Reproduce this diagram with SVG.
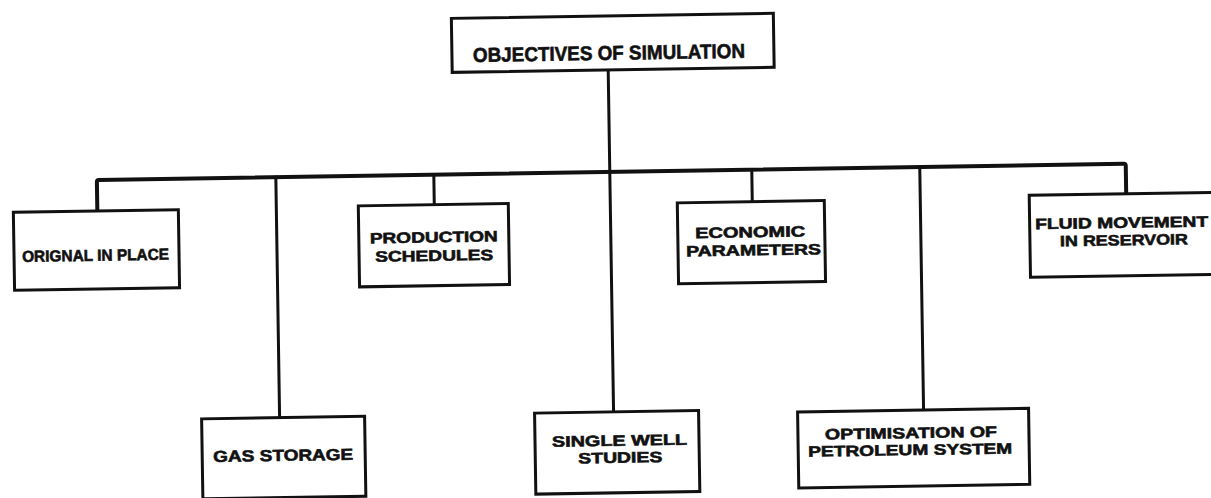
<svg xmlns="http://www.w3.org/2000/svg" width="1211" height="498" viewBox="0 0 1211 498">
<style>
.box{fill:#fff;stroke:#111;stroke-width:3}
.ln{fill:none;stroke:#111;stroke-width:3;stroke-linejoin:round;stroke-linecap:square}
.bus{fill:none;stroke:#111;stroke-width:4;stroke-linejoin:round}
text{font-family:"Liberation Sans",Arial,sans-serif;font-weight:bold;fill:#111;stroke:#111;stroke-width:0.6;text-anchor:middle}
.t{font-size:15px}
.s{font-size:16px}
.tt{font-size:20px}
</style>
<rect width="1211" height="498" fill="#fff"/>
<g transform="rotate(-0.9 605 249)">
<g id="connectors">
<path class="bus" d="M98,203 V174 Q98,172 100,172 H1125 Q1127,172 1127,174 V202"/>
<path class="ln" d="M611,70 V412"/>
<path class="ln" d="M277,172 V412"/>
<path class="ln" d="M435,172 V202"/>
<path class="ln" d="M753,172 V204"/>
<path class="ln" d="M921,172 V415"/>
</g>
<g id="objectives">
<rect class="box" x="455" y="16" width="322" height="54"/>
<text class="tt" x="612" y="60" textLength="272" lengthAdjust="spacingAndGlyphs">OBJECTIVES OF SIMULATION</text>
</g>
<g id="original-in-place">
<rect class="box" x="14" y="203" width="165" height="78"/>
<text class="s" x="95.5" y="252.8" textLength="147" lengthAdjust="spacingAndGlyphs">ORIGNAL IN PLACE</text>
</g>
<g id="gas-storage">
<rect class="box" x="199" y="412.5" width="163" height="80"/>
<text class="s" x="280" y="455.8" textLength="140" lengthAdjust="spacingAndGlyphs">GAS STORAGE</text>
</g>
<g id="production-schedules">
<rect class="box" x="359" y="202" width="150" height="81"/>
<text class="t" x="434" y="239.7" textLength="128" lengthAdjust="spacingAndGlyphs">PRODUCTION</text>
<text class="t" x="434" y="258.2" textLength="118" lengthAdjust="spacingAndGlyphs">SCHEDULES</text>
</g>
<g id="single-well-studies">
<rect class="box" x="532" y="412" width="164" height="81"/>
<text class="t" x="616.5" y="446" textLength="135" lengthAdjust="spacingAndGlyphs">SINGLE WELL</text>
<text class="t" x="617" y="463" textLength="84" lengthAdjust="spacingAndGlyphs">STUDIES</text>
</g>
<g id="economic-parameters">
<rect class="box" x="678" y="204" width="147" height="81"/>
<text class="t" x="750.3" y="239.7" textLength="110" lengthAdjust="spacingAndGlyphs">ECONOMIC</text>
<text class="t" x="753.5" y="257.7" textLength="135" lengthAdjust="spacingAndGlyphs">PARAMETERS</text>
</g>
<g id="optimisation">
<rect class="box" x="795" y="415" width="231" height="76"/>
<text class="t" x="908" y="442.9" textLength="172" lengthAdjust="spacingAndGlyphs">OPTIMISATION OF</text>
<text class="t" x="907" y="459.9" textLength="204" lengthAdjust="spacingAndGlyphs">PETROLEUM SYSTEM</text>
</g>
<g id="fluid-movement">
<rect class="box" x="1030" y="202" width="190" height="82"/>
<text class="t" x="1122" y="236" textLength="173" lengthAdjust="spacingAndGlyphs">FLUID MOVEMENT</text>
<text class="t" x="1124" y="253.5" textLength="128" lengthAdjust="spacingAndGlyphs">IN RESERVOIR</text>
</g>
</g>
</svg>
